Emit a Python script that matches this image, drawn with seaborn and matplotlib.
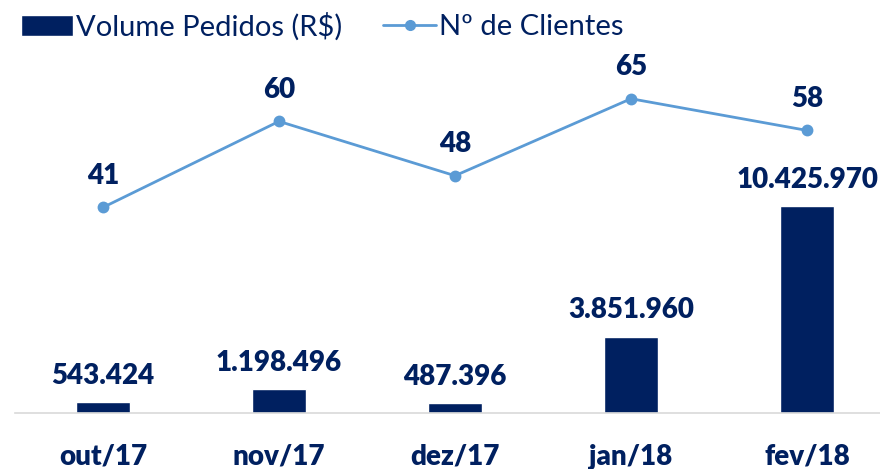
import matplotlib
matplotlib.use("Agg")
import matplotlib.pyplot as plt
from matplotlib.lines import Line2D
from matplotlib.patches import Patch
import seaborn as sns

meses = ["out/17", "nov/17", "dez/17", "jan/18", "fev/18"]
volume = [543424, 1198496, 487396, 3851960, 10425970]
clientes = [41, 60, 48, 65, 58]

navy = "#002060"
blue = "#5B9BD5"

sns.set_style("white")
plt.rcParams["font.family"] = ["Lato", "DejaVu Sans"]


def fmt_br(v):
    return f"{v:,}".replace(",", ".")


fig = plt.figure(figsize=(8.8, 4.69), dpi=100)
ax = fig.add_axes([15 / 880, 56 / 469, 1.0, 413 / 469])

sns.barplot(x=meses, y=volume, color=navy, width=0.31, saturation=1, ax=ax)
ax.set_ylim(0, 20.8e6)
ax.set_xlim(-0.5, 4.5)

# bar labels
for i, v in enumerate(volume):
    ax.annotate(fmt_br(v), (i, v), xytext=(0, 13), textcoords="offset points",
                ha="center", va="baseline", fontsize=20, fontweight="heavy", color=navy)

ax2 = ax.twinx()
sns.pointplot(x=meses, y=clientes, color=blue, markers="o", markersize=7,
              linewidth=2, ax=ax2)
ax2.set_ylim(-4.4, 86.8)
ax2.set_xlim(-0.5, 4.5)

for i, c in enumerate(clientes):
    ax2.annotate(str(c), (i, c), xytext=(0, 17), textcoords="offset points",
                 ha="center", va="baseline", fontsize=20, fontweight="heavy", color=navy)

for a in (ax, ax2):
    for s in ("top", "right", "left"):
        a.spines[s].set_visible(False)
    a.set_yticks([])
    a.set_ylabel("")
ax2.spines["bottom"].set_visible(False)
ax.spines["bottom"].set_color("#D9D9D9")
ax.spines["bottom"].set_linewidth(1.2)

ax.set_xticks(range(len(meses)))
ax.set_xticklabels(meses, fontsize=20, fontweight="heavy", color=navy)
ax.tick_params(axis="x", which="major", length=0, pad=22)
ax.set_xticks([i - 0.5 for i in range(len(meses) + 1)], minor=True)
ax.tick_params(axis="x", which="minor", length=10, width=1.2, color="#D9D9D9")
ax2.tick_params(axis="x", length=0, labelbottom=False)

handles = [Patch(facecolor=navy),
           Line2D([0], [0], color=blue, lw=2, marker="o", markersize=7)]
fig.legend(handles, ["Volume Pedidos (R$)", "Nº de Clientes"], loc="upper left",
           bbox_to_anchor=(-0.006, 1.03), ncol=2, frameon=False, fontsize=21,
           labelcolor=navy, handlelength=1.8, handleheight=0.75, columnspacing=1.4,
           handletextpad=0.1)

fig.savefig("out.png", dpi=100)
